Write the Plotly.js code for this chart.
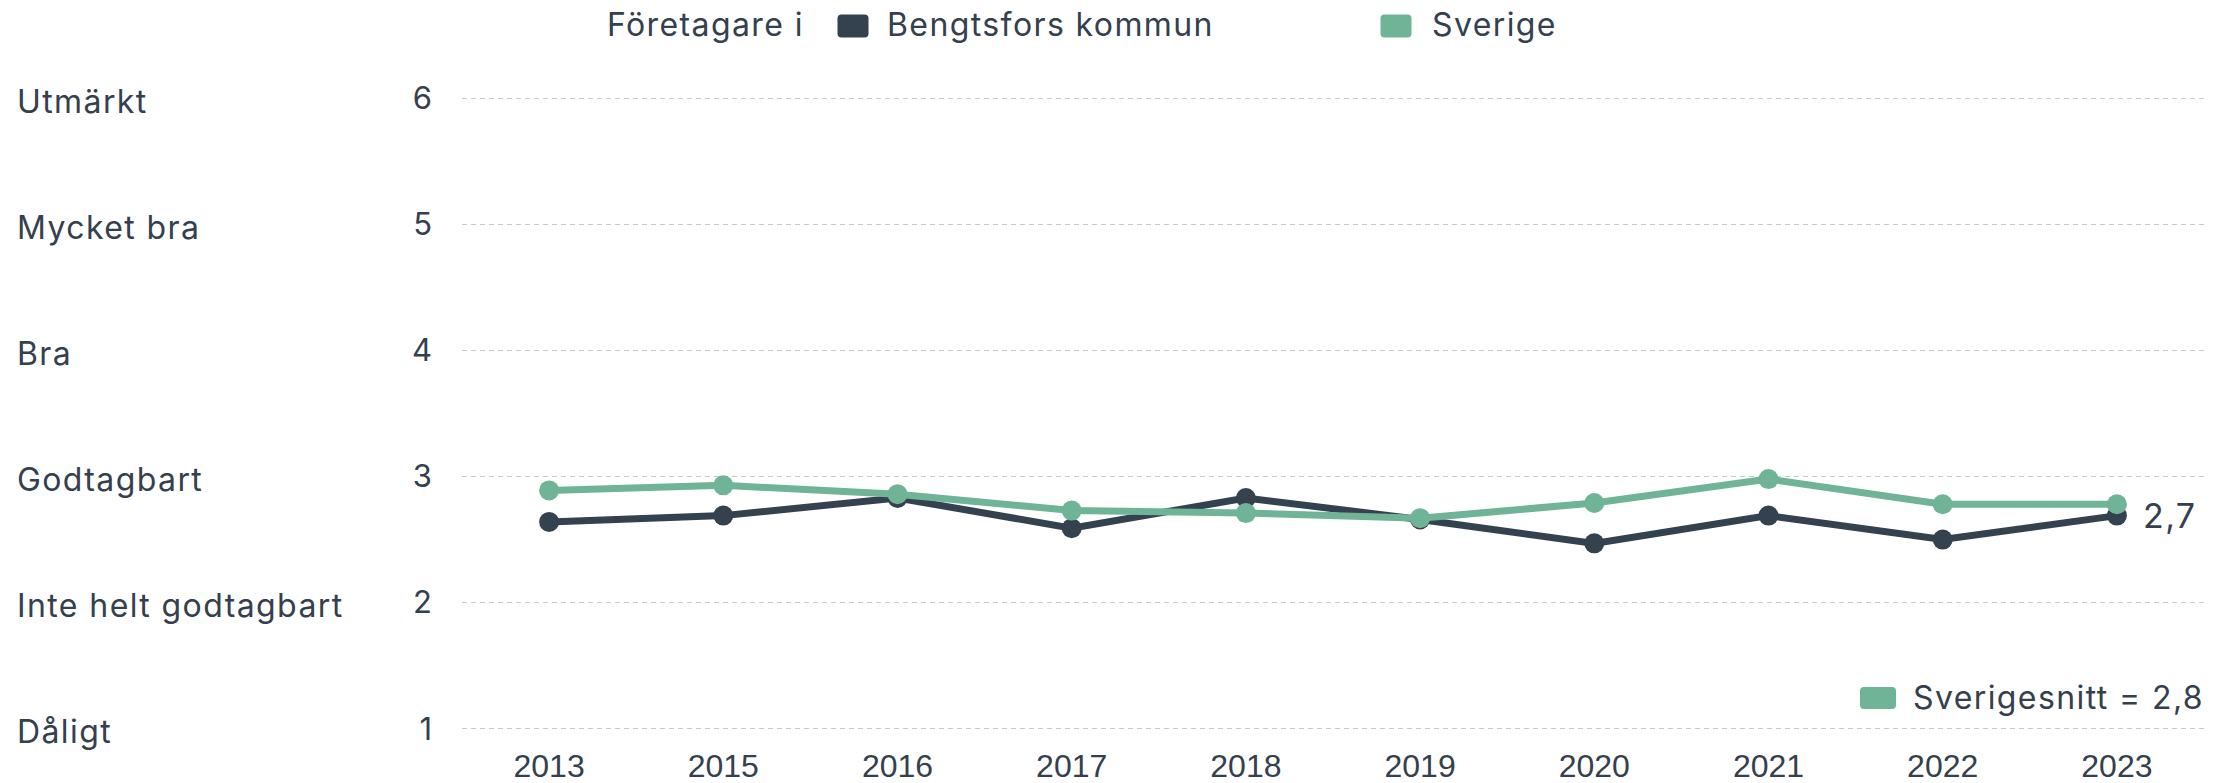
<!DOCTYPE html>
<html>
<head>
<meta charset="utf-8">
<script src="https://cdn.plot.ly/plotly-3.0.1.min.js"></script>
<style>
  html, body { margin: 0; padding: 0; background: #fff; }
  #chart { width: 2229px; height: 783px; }
  .annotation-text { letter-spacing: 1.4px; }
</style>
</head>
<body>
<div id="chart"></div>
<script>
// ---- data ----
const years = ["2013", "2015", "2016", "2017", "2018", "2019", "2020", "2021", "2022", "2023"];
const bengtsfors = [2.64, 2.69, 2.83, 2.59, 2.83, 2.66, 2.47, 2.69, 2.50, 2.69];
const sverige    = [2.89, 2.93, 2.86, 2.73, 2.71, 2.67, 2.79, 2.98, 2.78, 2.78];
const sverigesnitt = 2.8;
const gradeValues = [6, 5, 4, 3, 2, 1];
const gradeLabels = ["Utmärkt", "Mycket bra", "Bra", "Godtagbart", "Inte helt godtagbart", "Dåligt"];
const seriesNames = ["Bengtsfors kommun", "Sverige"];
const legendTitle = "Företagare i";

// ---- style ----
const DARK = "#34414f";
const GREEN = "#6fb497";
const TEXT = "#34404e";
const LABEL_FONT = "Inter, 'Open Sans', sans-serif";
const W = 2229, H = 783;
const M = { l: 462, r: 25, t: 92, b: 48 };
const plotW = W - M.l - M.r, plotH = H - M.t - M.b;
const px2x = p => (p - M.l) / plotW;
const py2y = p => (H - M.b - p) / plotH;
const fmt = v => v.toFixed(1).replace(".", ",");

function roundRect(w, h, r) {
  const a = w / 2, b = h / 2;
  return `M ${-a + r},${-b} L ${a - r},${-b} Q ${a},${-b} ${a},${-b + r} L ${a},${b - r} Q ${a},${b} ${a - r},${b} ` +
         `L ${-a + r},${b} Q ${-a},${b} ${-a},${b - r} L ${-a},${-b + r} Q ${-a},${-b} ${-a + r},${-b} Z`;
}

const traces = [
  {
    type: "scatter", mode: "lines+markers", name: seriesNames[0],
    x: years, y: bengtsfors,
    line: { color: DARK, width: 7 },
    marker: { color: DARK, size: 20 },
    cliponaxis: false, showlegend: false
  },
  {
    type: "scatter", mode: "lines+markers", name: seriesNames[1],
    x: years, y: sverige,
    line: { color: GREEN, width: 7 },
    marker: { color: GREEN, size: 20 },
    cliponaxis: false, showlegend: false
  }
];

const annotations = [];
gradeValues.forEach((v, i) => {
  annotations.push({
    xref: "paper", yref: "y", x: px2x(15), y: v, xanchor: "left", yanchor: "middle", yshift: -3,
    text: gradeLabels[i], showarrow: false,
    font: { family: LABEL_FONT, size: 32, color: TEXT }
  });
});
// top legend
annotations.push({ xref: "paper", yref: "paper", x: px2x(605), y: py2y(25), xanchor: "left", yanchor: "middle",
  text: legendTitle, showarrow: false, font: { family: LABEL_FONT, size: 32, color: TEXT } });
annotations.push({ xref: "paper", yref: "paper", x: px2x(885), y: py2y(25), xanchor: "left", yanchor: "middle",
  text: seriesNames[0], showarrow: false, font: { family: LABEL_FONT, size: 32, color: TEXT } });
annotations.push({ xref: "paper", yref: "paper", x: px2x(1430), y: py2y(25), xanchor: "left", yanchor: "middle",
  text: seriesNames[1], showarrow: false, font: { family: LABEL_FONT, size: 32, color: TEXT } });
// end label
const last = years.length - 1;
annotations.push({ xref: "x", yref: "y", x: last, y: bengtsfors[last],
  xanchor: "left", yanchor: "middle", xshift: 24, text: fmt(bengtsfors[last]),
  showarrow: false, font: { family: LABEL_FONT, size: 34, color: TEXT } });
// bottom-right average legend
annotations.push({ xref: "paper", yref: "paper", x: px2x(1911), y: py2y(697), xanchor: "left", yanchor: "middle",
  text: "Sverigesnitt = " + fmt(sverigesnitt), showarrow: false, font: { family: LABEL_FONT, size: 32, color: TEXT } });

const shapes = [
  { type: "path", xref: "paper", yref: "paper", xsizemode: "pixel", ysizemode: "pixel",
    xanchor: px2x(853), yanchor: py2y(26), path: roundRect(31, 23, 4),
    fillcolor: DARK, line: { width: 0 } },
  { type: "path", xref: "paper", yref: "paper", xsizemode: "pixel", ysizemode: "pixel",
    xanchor: px2x(1396), yanchor: py2y(26), path: roundRect(31, 23, 4),
    fillcolor: GREEN, line: { width: 0 } },
  { type: "path", xref: "paper", yref: "paper", xsizemode: "pixel", ysizemode: "pixel",
    xanchor: px2x(1878), yanchor: py2y(698), path: roundRect(36, 22, 4),
    fillcolor: GREEN, line: { width: 0 } }
];

const layout = {
  width: W, height: H,
  margin: M,
  paper_bgcolor: "#ffffff", plot_bgcolor: "#ffffff",
  showlegend: false,
  xaxis: {
    type: "category", range: [-0.5, years.length - 0.5],
    showgrid: false, zeroline: false, showline: false, ticks: "",
    ticklabelstandoff: 9,
    tickfont: { family: "'Liberation Sans', Arial, sans-serif", size: 32, color: TEXT },
    fixedrange: true
  },
  yaxis: {
    range: [0.95, 6.05], tickmode: "array", tickvals: gradeValues, ticktext: gradeValues.map(String),
    showgrid: true, gridcolor: "#c8c8c8", gridwidth: 1.5, griddash: "5px,4px",
    zeroline: false, showline: false, ticks: "",
    ticklabelstandoff: 29,
    tickfont: { family: LABEL_FONT, size: 31, color: TEXT },
    fixedrange: true
  },
  annotations: annotations,
  shapes: shapes
};

Plotly.newPlot("chart", traces, layout, { displayModeBar: false, staticPlot: true });
</script>
</body>
</html>
